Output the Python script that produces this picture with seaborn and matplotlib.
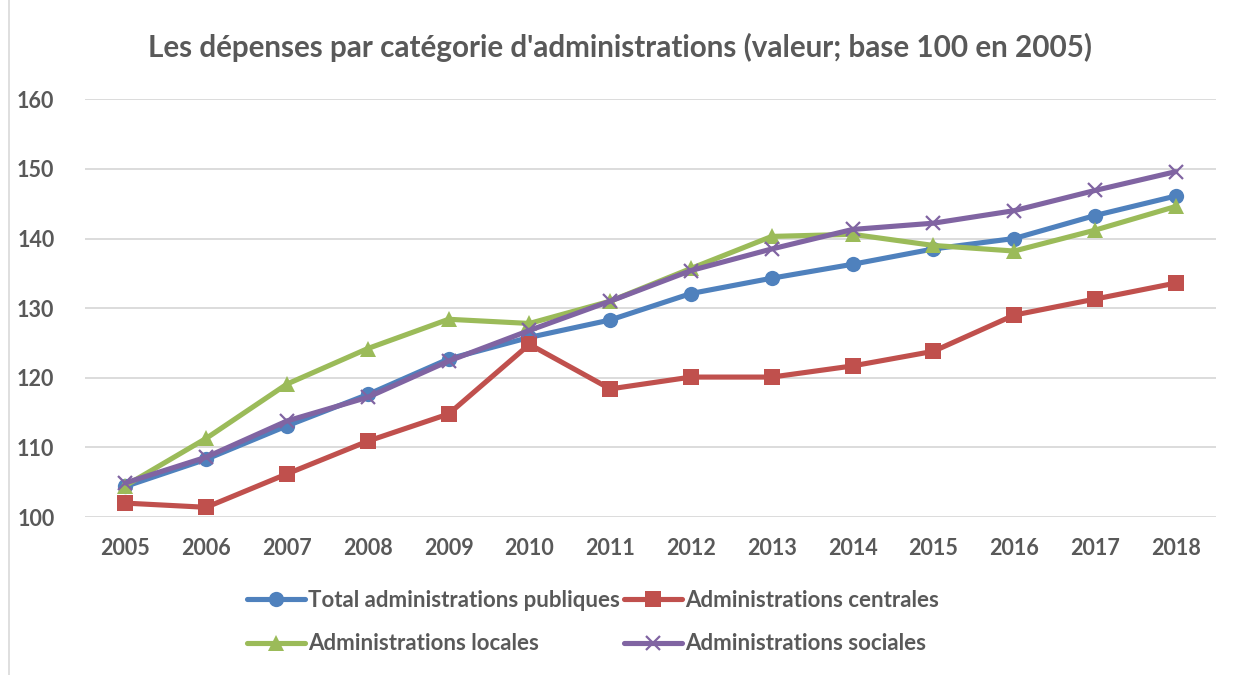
import matplotlib
matplotlib.use("Agg")
import matplotlib.pyplot as plt
import seaborn as sns
import pandas as pd
from matplotlib.lines import Line2D

years = ["2005", "2006", "2007", "2008", "2009", "2010", "2011", "2012", "2013", "2014", "2015", "2016", "2017", "2018"]
total = [104.4, 108.3, 113.1, 117.6, 122.7, 125.8, 128.3, 132.1, 134.3, 136.3, 138.5, 140.0, 143.3, 146.1]
centrales = [102.0, 101.4, 106.2, 110.9, 114.8, 124.8, 118.4, 120.1, 120.1, 121.7, 123.8, 129.0, 131.3, 133.6]
locales = [104.5, 111.3, 119.1, 124.2, 128.4, 127.8, 131.0, 135.7, 140.3, 140.6, 139.0, 138.2, 141.2, 144.6]
sociales = [104.9, 108.6, 113.8, 117.2, 122.4, 126.8, 131.0, 135.4, 138.5, 141.3, 142.2, 144.0, 146.9, 149.6]

series_names = ["Total administrations publiques", "Administrations centrales",
                "Administrations locales", "Administrations sociales"]
series_values = [total, centrales, locales, sociales]
colors = ["#4F81BD", "#C0504D", "#9BBB59", "#8064A2"]
markers = ["o", "s", "^", "x"]
title = "Les dépenses par catégorie d'administrations (valeur; base 100 en 2005)"

sns.set_theme(style="white")
plt.rcParams["font.family"] = ["Lato", "DejaVu Sans"]
text_color = "#595959"

rows = []
for name, vals in zip(series_names, series_values):
    for i, v in enumerate(vals):
        rows.append({"idx": i, "value": v, "serie": name})
df = pd.DataFrame(rows)

LW = 3.7
def msize(m):
    return 11 if m != "x" else 10

fig = plt.figure(figsize=(12.41, 6.75), dpi=100)
ax = fig.add_axes([0.0685, 0.234, 0.9115, 0.619])

for name, col, mk in zip(series_names, colors, markers):
    sub = df[df["serie"] == name]
    sns.lineplot(data=sub, x="idx", y="value", ax=ax, color=col, linewidth=LW,
                 marker=mk, markersize=msize(mk),
                 markeredgewidth=1.6 if mk == "x" else 0,
                 markeredgecolor=col, legend=False)

ax.set_xlim(-0.5, len(years) - 0.5)
ax.set_ylim(100, 160)
ax.set_yticks(range(100, 161, 10))
ax.set_xticks(range(len(years)))
ax.set_xticklabels(years)
ax.set_xlabel("")
ax.set_ylabel("")
for s in ax.spines.values():
    s.set_visible(False)
ax.grid(axis="y", color="#D9D9D9", linewidth=1.3)
ax.set_axisbelow(True)
ax.tick_params(axis="both", length=0, labelsize=15.5, labelcolor=text_color)
ax.tick_params(axis="y", pad=22)
ax.tick_params(axis="x", pad=15)
for lbl in ax.get_xticklabels() + ax.get_yticklabels():
    lbl.set_fontweight("bold")

fig.text(0.5, 0.93, title, ha="center", va="center", fontsize=21.3,
         fontweight="bold", color=text_color)

handles = [Line2D([0], [0], color=c, linewidth=LW, marker=m,
                  markersize=msize(m),
                  markeredgewidth=1.6 if m == "x" else 0, markeredgecolor=c)
           for c, m in zip(colors, markers)]
order = [0, 2, 1, 3]
leg = fig.legend([handles[i] for i in order], [series_names[i] for i in order],
                 loc="center", bbox_to_anchor=(0.478, 0.078),
                 ncol=2, frameon=False, fontsize=16, handlelength=2.6,
                 handletextpad=0.15, columnspacing=0.2, labelspacing=1.0)
for t in leg.get_texts():
    t.set_color(text_color)
    t.set_fontweight("bold")

fig.add_artist(Line2D([0.0075, 0.0075], [0.0, 1.0], color="#D9D9D9", linewidth=1.2,
                      transform=fig.transFigure))

fig.savefig("out.png", dpi=100)
